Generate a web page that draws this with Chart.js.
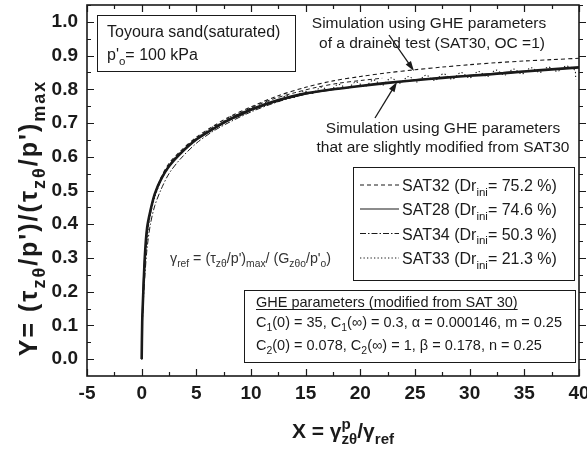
<!DOCTYPE html>
<html>
<head>
<meta charset="utf-8">
<script src="https://cdn.jsdelivr.net/npm/chart.js@4.4.1/dist/chart.umd.min.js"></script>
<style>
  html, body { margin: 0; padding: 0; background: #fff; }
  #wrap { width: 587px; height: 450px; }
</style>
</head>
<body>
<div id="wrap"><canvas id="chart" width="587" height="450"></canvas></div>
<script>
// axis ranges and tick values
const xMin = -5, xMax = 40;
const yMin = -0.05, yMax = 1.05;
const xTicks = [-5, 0, 5, 10, 15, 20, 25, 30, 35, 40];
const yTicks = [0, 0.1, 0.2, 0.3, 0.4, 0.5, 0.6, 0.7, 0.8, 0.9, 1.0];

// simulations
const simX         = [0, 0.05, 0.15, 0.3, 0.5, 0.8, 1.2, 1.8, 2.5, 3.5, 5, 6.5, 8, 10, 12.5, 15, 17.5, 20, 22.5, 25, 27.5, 30, 32.5, 35, 37.5, 40];
const simDrainedY  = [0, 0.12, 0.2, 0.3, 0.38, 0.44, 0.49, 0.54, 0.58, 0.615, 0.658, 0.69, 0.718, 0.748, 0.781, 0.806, 0.825, 0.838, 0.849, 0.858, 0.866, 0.873, 0.879, 0.884, 0.888, 0.892];
const simModifiedY = [0, 0.11, 0.2, 0.31, 0.39, 0.44, 0.49, 0.535, 0.572, 0.608, 0.651, 0.682, 0.71, 0.74, 0.768, 0.788, 0.8, 0.81, 0.819, 0.827, 0.834, 0.84, 0.846, 0.853, 0.859, 0.865];

// tests
const sat32X = [0, 0.05, 0.15, 0.3, 0.5, 0.8, 1.2, 1.8, 2.5, 3.5, 5, 6.5, 8, 10, 12, 14, 16, 18, 20, 22];
const sat32Y = [0, 0.11, 0.2, 0.29, 0.37, 0.435, 0.485, 0.535, 0.575, 0.612, 0.655, 0.686, 0.713, 0.745, 0.771, 0.79, 0.806, 0.818, 0.826, 0.833];

const sat28X = [0, 0.04, 0.1, 0.2, 0.35, 0.55, 0.8, 1.1, 1.5, 2, 2.6, 3.3, 4.1, 5, 6, 7, 8, 9, 10, 11.5, 13, 14.5, 16, 17.5, 19, 20.5, 22, 23.5, 25, 26.5, 28, 29.5, 31, 32.5, 34, 35.5, 37, 38.5, 39.8];
const sat28Y = [0, 0.1, 0.18, 0.26, 0.33, 0.39, 0.44, 0.48, 0.515, 0.548, 0.578, 0.604, 0.628, 0.652, 0.672, 0.69, 0.708, 0.722, 0.737, 0.755, 0.77, 0.782, 0.792, 0.799, 0.806, 0.812, 0.818, 0.822, 0.828, 0.832, 0.836, 0.84, 0.844, 0.848, 0.852, 0.855, 0.858, 0.861, 0.864];

const sat34X = [0, 0.05, 0.15, 0.3, 0.5, 0.8, 1.2, 1.8, 2.5, 3.5, 5, 6.5, 8, 10, 12, 14, 16, 18];
const sat34Y = [0, 0.09, 0.17, 0.25, 0.33, 0.4, 0.455, 0.505, 0.55, 0.592, 0.64, 0.675, 0.702, 0.733, 0.758, 0.778, 0.793, 0.804];

const sat33X = [0, 0.05, 0.15, 0.3, 0.5, 0.8, 1.2, 1.7, 2.3, 3, 3.8, 4.7, 5.6, 6.5, 7.4, 8.3, 9.2, 10, 10.8, 11.6, 12.4, 13.2, 14, 14.8, 15.6, 16.4, 17.2, 18, 18.8, 19.6, 20.4, 21.2, 22, 22.8, 23.6, 24.4, 25.2, 26, 26.8, 27.6, 28.4, 29.2, 30, 30.8, 31.6, 32.4, 33.2, 34, 34.8, 35.6, 36.4, 37.2, 38, 38.8, 39.6, 39.7];
const sat33Y = [0, 0.1, 0.19, 0.28, 0.36, 0.43, 0.48, 0.525, 0.56, 0.595, 0.62, 0.648, 0.668, 0.688, 0.702, 0.722, 0.728, 0.745, 0.748, 0.765, 0.762, 0.781, 0.776, 0.795, 0.788, 0.806, 0.797, 0.815, 0.803, 0.822, 0.808, 0.828, 0.812, 0.834, 0.818, 0.838, 0.822, 0.842, 0.826, 0.846, 0.83, 0.85, 0.834, 0.853, 0.838, 0.857, 0.842, 0.86, 0.846, 0.864, 0.85, 0.866, 0.853, 0.869, 0.857, 0.83];

const INK = '#1a1a1a';
const FONT = '"Liberation Sans", Arial, sans-serif';
const SUB = 0.72;

function pts(xs, ys) {
    return xs.map((x, i) => ({ x: x, y: ys[i] }));
}

function font(size, weight) {
    return (weight || 'normal') + ' ' + size + 'px ' + FONT;
}

// text with sub/superscripts: {t} plain, {t, b:1} sub, {t, p:1} sup, {t, b:1, up} stacked
function richWidth(ctx, segs, size, weight) {
    let w = 0;
    segs.forEach(s => {
        if (s.b || s.p) {
            ctx.font = font(size * SUB, weight);
            let sw = ctx.measureText(s.t).width;
            if (s.up) sw = Math.max(sw, ctx.measureText(s.up).width);
            w += sw;
        } else {
            ctx.font = font(size, weight);
            w += ctx.measureText(s.t).width;
        }
    });
    return w;
}

function drawRich(ctx, segs, x, y, size, weight, align) {
    let cx = x;
    const total = richWidth(ctx, segs, size, weight);
    if (align === 'center') cx = x - total / 2;
    ctx.textAlign = 'left';
    ctx.textBaseline = 'alphabetic';
    segs.forEach(s => {
        if (s.b || s.p) {
            ctx.font = font(size * SUB, weight);
            let sw = ctx.measureText(s.t).width;
            ctx.fillText(s.t, cx, y + (s.b ? size * 0.3 : -size * 0.42));
            if (s.up) {
                ctx.fillText(s.up, cx, y - size * 0.45);
                sw = Math.max(sw, ctx.measureText(s.up).width);
            }
            cx += sw;
        } else {
            ctx.font = font(size, weight);
            ctx.fillText(s.t, cx, y);
            cx += ctx.measureText(s.t).width;
        }
    });
    return { x0: cx - total, x1: cx };
}

function arrow(ctx, x0, y0, x1, y1) {
    const ang = Math.atan2(y1 - y0, x1 - x0);
    const len = 10, hw = 3.2;
    ctx.beginPath();
    ctx.moveTo(x0, y0);
    ctx.lineTo(x1 - Math.cos(ang) * len * 0.8, y1 - Math.sin(ang) * len * 0.8);
    ctx.lineWidth = 1.3;
    ctx.stroke();
    ctx.beginPath();
    ctx.moveTo(x1, y1);
    ctx.lineTo(x1 - Math.cos(ang) * len - Math.sin(ang) * hw, y1 - Math.sin(ang) * len + Math.cos(ang) * hw);
    ctx.lineTo(x1 - Math.cos(ang) * len + Math.sin(ang) * hw, y1 - Math.sin(ang) * len - Math.cos(ang) * hw);
    ctx.closePath();
    ctx.fill();
}

const decor = {
    id: 'decor',
    afterDraw(chart) {
        const ctx = chart.ctx;
        const a = chart.chartArea;
        const xs = chart.scales.x, ys = chart.scales.y;
        ctx.save();
        ctx.strokeStyle = INK;
        ctx.fillStyle = INK;
        ctx.setLineDash([]);

        // frame
        ctx.lineWidth = 1.6;
        ctx.strokeRect(a.left, a.top, a.right - a.left, a.bottom - a.top);

        // ticks: inward on left/top/bottom, outward on right
        ctx.lineWidth = 1.2;
        ctx.beginPath();
        for (let v = -5; v <= 40.01; v += 2.5) {
            const px = Math.round(xs.getPixelForValue(v)) + 0.5;
            const len = (Math.abs(v % 5) < 0.01) ? 7 : 4;
            ctx.moveTo(px, a.bottom); ctx.lineTo(px, a.bottom - len);
            ctx.moveTo(px, a.top); ctx.lineTo(px, a.top + len);
        }
        for (let i = 0; i <= 21; i++) {
            const v = i * 0.05;
            const py = Math.round(ys.getPixelForValue(v)) + 0.5;
            const len = (i % 2 === 0) ? 7 : 4;
            ctx.moveTo(a.left, py); ctx.lineTo(a.left + len, py);
            ctx.moveTo(a.right, py); ctx.lineTo(a.right + len, py);
        }
        ctx.stroke();

        // axis titles
        ctx.save();
        ctx.translate(37, 218);
        ctx.rotate(-Math.PI / 2);
        ctx.letterSpacing = '2px';
        drawRich(ctx, [
            { t: 'Y= (τ' }, { t: 'zθ', b: 1 }, { t: "/p')/(τ" }, { t: 'zθ', b: 1 },
            { t: "/p')" }, { t: 'max', b: 1 }
        ], 0, 0, 25, 'bold', 'center');
        ctx.letterSpacing = '0px';
        ctx.restore();

        drawRich(ctx, [
            { t: 'X = γ' }, { t: 'zθ', b: 1, up: 'p' }, { t: '/γ' }, { t: 'ref', b: 1 }
        ], 343, 438, 21, 'bold', 'center');

        // top-left box
        ctx.lineWidth = 1;
        ctx.strokeRect(97.5, 15.5, 198, 56);
        drawRich(ctx, [{ t: 'Toyoura sand(saturated)' }], 107, 37, 16);
        drawRich(ctx, [{ t: "p'" }, { t: 'o', b: 1 }, { t: '= 100 kPa' }], 107, 60, 16);

        // annotations with arrows
        drawRich(ctx, [{ t: 'Simulation using GHE parameters' }], 429, 28, 15.5, 'normal', 'center');
        drawRich(ctx, [{ t: 'of a drained test (SAT30, OC =1)' }], 432, 48, 15.5, 'normal', 'center');
        arrow(ctx, 389, 35, 414, 71);

        drawRich(ctx, [{ t: 'Simulation using GHE parameters' }], 443, 133, 15.5, 'normal', 'center');
        drawRich(ctx, [{ t: 'that are slightly modified from SAT30' }], 443, 152, 15.5, 'normal', 'center');
        arrow(ctx, 375, 118, 397, 82);

        // gamma_ref definition
        ctx.fillStyle = '#333';
        drawRich(ctx, [
            { t: 'γ' }, { t: 'ref', b: 1 }, { t: ' = (τ' }, { t: 'zθ', b: 1 }, { t: "/p')" },
            { t: 'max', b: 1 }, { t: '/ (G' }, { t: 'zθo', b: 1 }, { t: "/p'" }, { t: 'o', b: 1 }, { t: ')' }
        ], 170, 263, 14.3);
        ctx.fillStyle = INK;

        // legend
        ctx.lineWidth = 1;
        ctx.strokeRect(353.5, 167.5, 221, 113);
        const legendRows = [
            ['SAT32', '75.2', 2, 185],
            ['SAT28', '74.6', 1, 209],
            ['SAT34', '50.3', 3, 233.5],
            ['SAT33', '21.3', 4, 258]
        ];
        legendRows.forEach(r => {
            const ds = chart.data.datasets[r[2]];
            ctx.save();
            ctx.setLineDash(ds.borderDash || []);
            ctx.lineWidth = 1.2;
            ctx.beginPath();
            ctx.moveTo(360, r[3]);
            ctx.lineTo(399, r[3]);
            ctx.stroke();
            ctx.restore();
            drawRich(ctx, [{ t: r[0] + ' (Dr' }, { t: 'ini', b: 1 }, { t: '= ' + r[1] + ' %)' }], 402, r[3] + 6, 16);
        });

        // GHE parameter box
        ctx.strokeRect(244.5, 290.5, 331, 72);
        const h = drawRich(ctx, [{ t: 'GHE parameters (modified from SAT 30)' }], 256, 307, 14.5);
        ctx.lineWidth = 1;
        ctx.beginPath();
        ctx.moveTo(256, 309.5); ctx.lineTo(h.x1, 309.5);
        ctx.stroke();
        drawRich(ctx, [
            { t: 'C' }, { t: '1', b: 1 }, { t: '(0) = 35, C' }, { t: '1', b: 1 },
            { t: '(∞) = 0.3, α = 0.000146, m = 0.25' }
        ], 256, 327, 14.5);
        drawRich(ctx, [
            { t: 'C' }, { t: '2', b: 1 }, { t: '(0) = 0.078, C' }, { t: '2', b: 1 },
            { t: '(∞) = 1, β = 0.178, n = 0.25' }
        ], 256, 350, 14.5);

        ctx.restore();
    }
};

const chart = new Chart(document.getElementById('chart'), {
    type: 'scatter',
    data: {
        datasets: [
            { label: 'Simulation (modified)', data: pts(simX, simModifiedY), borderColor: INK, borderWidth: 2.6 },
            { label: 'SAT28', data: pts(sat28X, sat28Y), borderColor: INK, borderWidth: 1.2 },
            { label: 'SAT32', data: pts(sat32X, sat32Y), borderColor: INK, borderWidth: 1, borderDash: [4, 3] },
            { label: 'SAT34', data: pts(sat34X, sat34Y), borderColor: INK, borderWidth: 1, borderDash: [6, 2, 1.5, 2] },
            { label: 'SAT33', data: pts(sat33X, sat33Y), borderColor: INK, borderWidth: 1.1, borderDash: [1.3, 2.2] },
            { label: 'Simulation (drained)', data: pts(simX, simDrainedY), borderColor: INK, borderWidth: 1.1, borderDash: [4, 3] }
        ]
    },
    options: {
        responsive: false,
        animation: false,
        showLine: true,
        elements: { point: { radius: 0 }, line: { tension: 0.3, fill: false } },
        layout: { padding: { top: 5, right: 8, left: 0, bottom: 0 } },
        plugins: { legend: { display: false }, tooltip: { enabled: false } },
        scales: {
            x: {
                type: 'linear', min: xMin, max: xMax,
                afterBuildTicks: s => { s.ticks = xTicks.map(v => ({ value: v })); },
                afterFit: s => { s.height = 74; s.paddingLeft = 0; s.paddingRight = 0; },
                grid: { display: false, drawTicks: false },
                border: { display: false },
                ticks: { color: INK, padding: 6, maxRotation: 0, font: { family: FONT, size: 19, weight: 'bold' } }
            },
            y: {
                type: 'linear', min: yMin, max: yMax,
                afterBuildTicks: s => { s.ticks = yTicks.map(v => ({ value: v })); },
                afterFit: s => { s.width = 87; s.paddingTop = 0; s.paddingBottom = 0; },
                grid: { display: false, drawTicks: false },
                border: { display: false },
                ticks: {
                    color: INK, padding: 9, font: { family: FONT, size: 19, weight: 'bold' },
                    callback: v => v.toFixed(1)
                }
            }
        }
    },
    plugins: [decor]
});
</script>
</body>
</html>
